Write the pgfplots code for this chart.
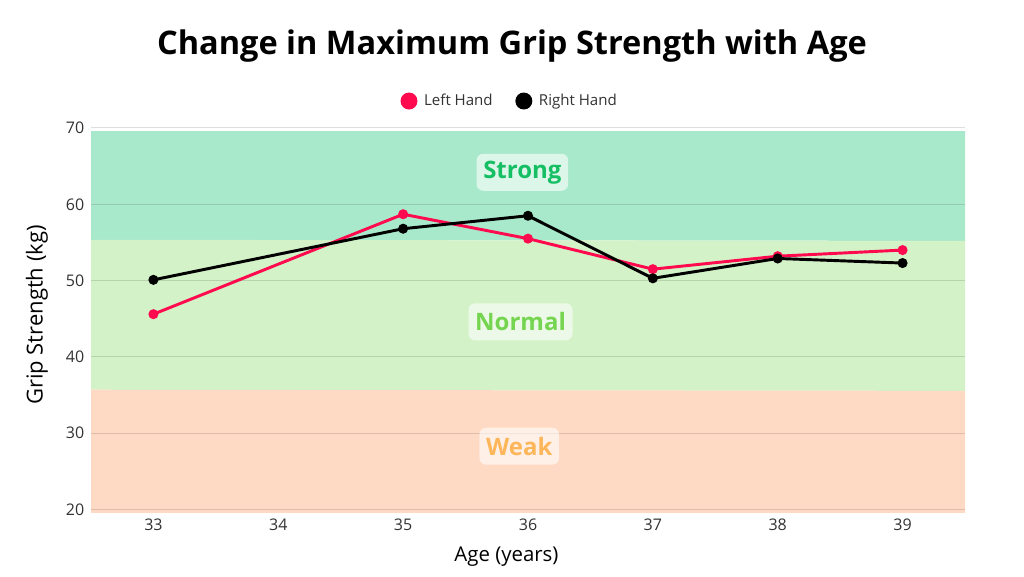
\documentclass[border=0pt]{standalone}
\usepackage{fontspec}
\setmainfont{Open Sans}
\usepackage{pgfplots}
\pgfplotsset{compat=1.18}
\definecolor{strongbg}{HTML}{A9E9CB}
\definecolor{normalbg}{HTML}{D3F2C7}
\definecolor{weakbg}{HTML}{FED9C3}
\definecolor{leftc}{HTML}{FF0A4E}
\definecolor{strongtx}{HTML}{16BF63}
\definecolor{normaltx}{HTML}{76D550}
\definecolor{weaktx}{HTML}{FDB75A}
\definecolor{ticktx}{HTML}{333333}
\begin{document}
\begin{tikzpicture}
\useasboundingbox[fill=white] (0pt,0pt) rectangle (768pt,432pt);
\node[anchor=base, font=\bfseries\fontsize{24.4}{29}\selectfont] at (384pt,390.75pt) {Change in Maximum Grip Strength with Age};
\begin{axis}[
  at={(68.25pt,47.0pt)}, anchor=south west,
  scale only axis, width=655.5pt, height=289pt,
  xmin=32.5, xmax=39.5, ymin=19.5, ymax=70,
  xtick={33,34,35,36,37,38,39}, ytick={20,30,40,50,60,70},
  axis line style={draw=none}, tick style={draw=none}, major tick length=0pt,
  /pgf/number format/assume math mode=true,
  ticklabel style={font=\fontsize{12}{14}\selectfont, text=ticktx},
  yticklabel style={xshift=-1.5pt},
  xticklabel style={yshift=-0.5pt},
  xlabel={Age (years)}, ylabel={Grip Strength (kg)},
  label style={text=black},
  xlabel style={font=\fontsize{15.3}{18}\selectfont, at={(axis description cs:0.4754,-0.112)}, anchor=center},
  ylabel style={font=\fontsize{16.5}{19}\selectfont, at={(axis description cs:-0.0618,0.5147)}, anchor=center},
  legend columns=2,
  legend style={at={(axis description cs:0.4817,1.07)}, anchor=center, draw=none, fill=none,
    font=\fontsize{11.3}{13}\selectfont, text=ticktx,
    /tikz/every even column/.append style={column sep=12pt},
    nodes={inner xsep=5pt}},
  legend image code/.code={\fill[#1] (0pt,0pt) circle (5.25pt);},
]
\addplot[forget plot, fill=strongbg, draw=none] coordinates {(32.5,55.35) (39.5,55.2) (39.5,69.6) (32.5,69.6)} -- cycle;
\addplot[forget plot, fill=normalbg, draw=none] coordinates {(32.5,35.7) (39.5,35.55) (39.5,55.2) (32.5,55.35)} -- cycle;
\addplot[forget plot, fill=weakbg, draw=none] coordinates {(32.5,19.55) (39.5,19.55) (39.5,35.55) (32.5,35.7)} -- cycle;
\pgfplotsinvokeforeach{20,30,40,50,60,70}{
  \addplot[forget plot, black, opacity=0.13, line width=0.75pt] coordinates {(32.5,#1) (39.5,#1)};
}
\addplot[leftc, line width=2.2pt, mark=*, mark size=2.6pt, mark options={solid}] coordinates {
(33,45.6) (35,58.7) (36,55.5) (37,51.5) (38,53.2) (39,54.0)};
\addlegendentry{Left Hand}
\addplot[black, line width=2.2pt, mark=*, mark size=2.6pt, mark options={solid}] coordinates {
(33,50.1) (35,56.8) (36,58.5) (37,50.3) (38,52.9) (39,52.3)};
\addlegendentry{Right Hand}
\node[fill=white, fill opacity=0.6, text opacity=1, rounded corners=5pt, text=strongtx,
  font=\bfseries\fontsize{18}{21}\selectfont, inner xsep=5pt, minimum height=27.75pt] at (axis cs:35.955,64.2) {Strong};
\node[fill=white, fill opacity=0.6, text opacity=1, rounded corners=5pt, text=normaltx,
  font=\bfseries\fontsize{18}{21}\selectfont, inner xsep=5pt, minimum height=27.75pt] at (axis cs:35.94,44.6) {Normal};
\node[fill=white, fill opacity=0.6, text opacity=1, rounded corners=5pt, text=weaktx,
  font=\bfseries\fontsize{18}{21}\selectfont, inner xsep=5pt, minimum height=27.75pt] at (axis cs:35.93,28.3) {Weak};
\end{axis}
\end{tikzpicture}
\end{document}
